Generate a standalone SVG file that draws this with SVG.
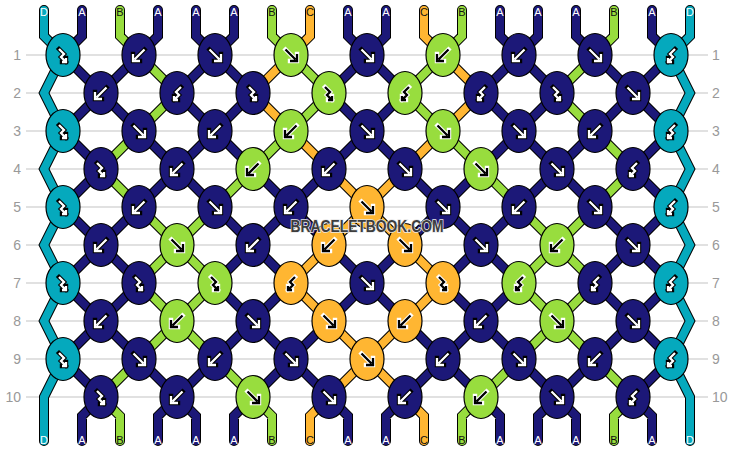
<svg xmlns="http://www.w3.org/2000/svg" xmlns:xlink="http://www.w3.org/1999/xlink" width="734" height="452" viewBox="0 0 734 452">
<style>
.grid line{stroke:#c4c4c4;stroke-width:1.2}
.rn{font-family:"Liberation Sans",Arial,sans-serif;font-size:14px;fill:#999}
.ol{fill:none;stroke:#000;stroke-width:10;stroke-linecap:round;stroke-linejoin:miter}
.cl{fill:none;stroke-width:8;stroke-linecap:round;stroke-linejoin:miter}
.sA{stroke:#1c1878}.sB{stroke:#98dd3e}.sC{stroke:#ffb632}.sD{stroke:#05a9bd}
ellipse{stroke:#000;stroke-width:1.2}
.eA{fill:#1c1878}.eB{fill:#98dd3e}.eC{fill:#ffb632}.eD{fill:#05a9bd}
.ao{fill:none;stroke-width:4.4;stroke-linecap:square;stroke-linejoin:miter}
.am{fill:none;stroke:currentColor;stroke-width:2.3;stroke-linecap:butt;stroke-linejoin:miter}
.wa{color:#fff;stroke:#000}
.ba{color:#000;stroke:#fff}
.lb{font-family:"Liberation Sans",Arial,sans-serif;font-size:11px;text-anchor:middle}
.lw{fill:#fff}.lk{fill:#111}
.wm{font-family:"Liberation Sans",Arial,sans-serif;font-weight:bold;font-size:16px;text-anchor:middle;fill:#3d3d3d;stroke:#e8e8e8;stroke-width:1.6;paint-order:stroke}
</style>
<defs>
<g id="f"><path class="ao" d="M-5.5,-5.5L4.5,4.5M-1,6H6V-1"/><path class="am" d="M-5.5,-5.5L4.5,4.5M-1,6H6V-1"/></g>
<g id="b"><path class="ao" d="M5.5,-5.5L-4.5,4.5M1,6H-6V-1"/><path class="am" d="M5.5,-5.5L-4.5,4.5M1,6H-6V-1"/></g>
<g id="fb"><path class="ao" d="M-4,-6L1,-1L-2,2L3,7M-1,7H3V3"/><path class="am" d="M-4,-6L1,-1L-2,2L3,7M-1,7H3V3"/></g>
<g id="bf"><path class="ao" d="M4,-6L-1,-1L2,2L-3,7M1,7H-3V3"/><path class="am" d="M4,-6L-1,-1L2,2L-3,7M1,7H-3V3"/></g>
<path id="pA" d="M82,10V36L63,55M158,10V36L139,55M196,10V36L215,55M234,10V36L215,55M348,10V36L367,55M386,10V36L367,55M500,10V36L519,55M538,10V36L519,55M576,10V36L595,55M652,10V36L671,55
M101,397L82,416V441M177,397L158,416V441M177,397L196,416V441M253,397L234,416V441M329,397L348,416V441M405,397L386,416V441M481,397L500,416V441M557,397L538,416V441M557,397L576,416V441M633,397L652,416V441
M63,55L101,93M139,55L101,93M215,55L177,93M215,55L253,93M367,55L329,93M367,55L405,93M519,55L481,93M519,55L557,93M595,55L633,93M671,55L633,93
M101,93L63,131M101,93L139,131M177,93L215,131M253,93L215,131M329,93L367,131M405,93L367,131M481,93L519,131M557,93L519,131M633,93L595,131M633,93L671,131
M63,131L101,169M139,131L177,169M215,131L177,169M215,131L253,169M367,131L329,169M367,131L405,169M519,131L481,169M519,131L557,169M595,131L557,169M671,131L633,169
M101,169L63,207M177,169L139,207M177,169L215,207M253,169L291,207M329,169L291,207M405,169L443,207M481,169L443,207M557,169L519,207M557,169L595,207M633,169L671,207
M63,207L101,245M139,207L101,245M215,207L253,245M291,207L253,245M291,207L329,245M443,207L405,245M443,207L481,245M519,207L481,245M595,207L633,245M671,207L633,245
M101,245L63,283M101,245L139,283M253,245L215,283M253,245L291,283M329,245L367,283M405,245L367,283M481,245L443,283M481,245L519,283M633,245L595,283M633,245L671,283
M63,283L101,321M139,283L101,321M215,283L253,321M291,283L253,321M367,283L329,321M367,283L405,321M443,283L481,321M519,283L481,321M595,283L633,321M671,283L633,321
M101,321L63,359M101,321L139,359M253,321L215,359M253,321L291,359M329,321L291,359M405,321L443,359M481,321L443,359M481,321L519,359M633,321L595,359M633,321L671,359
M63,359L101,397M139,359L177,397M215,359L177,397M291,359L253,397M291,359L329,397M443,359L405,397M443,359L481,397M519,359L557,397M595,359L557,397M671,359L633,397"/>
<path id="pB" d="M120,10V36L139,55M272,10V36L291,55M462,10V36L443,55M614,10V36L595,55
M101,397L120,416V441M253,397L272,416V441M481,397L462,416V441M633,397L614,416V441
M139,55L177,93M291,55L329,93M443,55L405,93M595,55L557,93
M177,93L139,131M329,93L291,131M405,93L443,131M557,93L595,131
M139,131L101,169M291,131L253,169M443,131L481,169M595,131L633,169
M101,169L139,207M253,169L215,207M481,169L519,207M633,169L595,207
M139,207L177,245M215,207L177,245M519,207L557,245M595,207L557,245
M177,245L139,283M177,245L215,283M557,245L519,283M557,245L595,283
M139,283L177,321M215,283L177,321M519,283L557,321M595,283L557,321
M177,321L139,359M177,321L215,359M557,321L519,359M557,321L595,359
M139,359L101,397M215,359L253,397M519,359L481,397M595,359L633,397"/>
<path id="pC" d="M310,10V36L291,55M424,10V36L443,55
M329,397L310,416V441M405,397L424,416V441
M291,55L253,93M443,55L481,93
M253,93L291,131M481,93L443,131
M291,131L329,169M443,131L405,169
M329,169L367,207M405,169L367,207
M367,207L329,245M367,207L405,245
M329,245L291,283M405,245L443,283
M291,283L329,321M443,283L405,321
M329,321L367,359M405,321L367,359
M367,359L329,397M367,359L405,397"/>
<path id="pD" d="M44,10V36L63,55L44,93L63,131L44,169L63,207L44,245L63,283L44,321L63,359L44,397V441
M690,10V36L671,55L690,93L671,131L690,169L671,207L690,245L671,283L690,321L671,359L690,397V441"/>
</defs>
<rect x="0" y="0" width="734" height="452" fill="#fff"/>
<g class="grid">
<line x1="26" y1="55" x2="708" y2="55"/><line x1="26" y1="93" x2="708" y2="93"/><line x1="26" y1="131" x2="708" y2="131"/><line x1="26" y1="169" x2="708" y2="169"/><line x1="26" y1="207" x2="708" y2="207"/><line x1="26" y1="245" x2="708" y2="245"/><line x1="26" y1="283" x2="708" y2="283"/><line x1="26" y1="321" x2="708" y2="321"/><line x1="26" y1="359" x2="708" y2="359"/><line x1="26" y1="397" x2="708" y2="397"/>
</g>
<g class="rn">
<text x="21" y="60" text-anchor="end">1</text><text x="21" y="98" text-anchor="end">2</text><text x="21" y="136" text-anchor="end">3</text><text x="21" y="174" text-anchor="end">4</text><text x="21" y="212" text-anchor="end">5</text><text x="21" y="250" text-anchor="end">6</text><text x="21" y="288" text-anchor="end">7</text><text x="21" y="326" text-anchor="end">8</text><text x="21" y="364" text-anchor="end">9</text><text x="21" y="402" text-anchor="end">10</text>
<text x="712" y="60">1</text><text x="712" y="98">2</text><text x="712" y="136">3</text><text x="712" y="174">4</text><text x="712" y="212">5</text><text x="712" y="250">6</text><text x="712" y="288">7</text><text x="712" y="326">8</text><text x="712" y="364">9</text><text x="712" y="402">10</text>
</g>
<g id="connectors">
<use href="#pA" class="ol"/><use href="#pB" class="ol"/><use href="#pC" class="ol"/><use href="#pD" class="ol"/>
<use href="#pA" class="cl sA"/><use href="#pB" class="cl sB"/><use href="#pC" class="cl sC"/><use href="#pD" class="cl sD"/>
</g>
<g id="knots">
<g id="k1-1"><ellipse class="eD" cx="63" cy="55" rx="17" ry="21.5"/><use href="#fb" x="63" y="55" class="wa"/></g>
<g id="k1-2"><ellipse class="eA" cx="139" cy="55" rx="17" ry="21.5"/><use href="#b" x="139" y="55" class="wa"/></g>
<g id="k1-3"><ellipse class="eA" cx="215" cy="55" rx="17" ry="21.5"/><use href="#f" x="215" y="55" class="wa"/></g>
<g id="k1-4"><ellipse class="eB" cx="291" cy="55" rx="17" ry="21.5"/><use href="#f" x="291" y="55" class="ba"/></g>
<g id="k1-5"><ellipse class="eA" cx="367" cy="55" rx="17" ry="21.5"/><use href="#f" x="367" y="55" class="wa"/></g>
<g id="k1-6"><ellipse class="eB" cx="443" cy="55" rx="17" ry="21.5"/><use href="#b" x="443" y="55" class="ba"/></g>
<g id="k1-7"><ellipse class="eA" cx="519" cy="55" rx="17" ry="21.5"/><use href="#b" x="519" y="55" class="wa"/></g>
<g id="k1-8"><ellipse class="eA" cx="595" cy="55" rx="17" ry="21.5"/><use href="#f" x="595" y="55" class="wa"/></g>
<g id="k1-9"><ellipse class="eD" cx="671" cy="55" rx="17" ry="21.5"/><use href="#bf" x="671" y="55" class="wa"/></g>

<g id="k2-1"><ellipse class="eA" cx="101" cy="93" rx="17" ry="21.5"/><use href="#b" x="101" y="93" class="wa"/></g>
<g id="k2-2"><ellipse class="eA" cx="177" cy="93" rx="17" ry="21.5"/><use href="#bf" x="177" y="93" class="wa"/></g>
<g id="k2-3"><ellipse class="eA" cx="253" cy="93" rx="17" ry="21.5"/><use href="#fb" x="253" y="93" class="wa"/></g>
<g id="k2-4"><ellipse class="eB" cx="329" cy="93" rx="17" ry="21.5"/><use href="#fb" x="329" y="93" class="ba"/></g>
<g id="k2-5"><ellipse class="eB" cx="405" cy="93" rx="17" ry="21.5"/><use href="#bf" x="405" y="93" class="ba"/></g>
<g id="k2-6"><ellipse class="eA" cx="481" cy="93" rx="17" ry="21.5"/><use href="#bf" x="481" y="93" class="wa"/></g>
<g id="k2-7"><ellipse class="eA" cx="557" cy="93" rx="17" ry="21.5"/><use href="#fb" x="557" y="93" class="wa"/></g>
<g id="k2-8"><ellipse class="eA" cx="633" cy="93" rx="17" ry="21.5"/><use href="#f" x="633" y="93" class="wa"/></g>

<g id="k3-1"><ellipse class="eD" cx="63" cy="131" rx="17" ry="21.5"/><use href="#fb" x="63" y="131" class="wa"/></g>
<g id="k3-2"><ellipse class="eA" cx="139" cy="131" rx="17" ry="21.5"/><use href="#f" x="139" y="131" class="wa"/></g>
<g id="k3-3"><ellipse class="eA" cx="215" cy="131" rx="17" ry="21.5"/><use href="#b" x="215" y="131" class="wa"/></g>
<g id="k3-4"><ellipse class="eB" cx="291" cy="131" rx="17" ry="21.5"/><use href="#b" x="291" y="131" class="ba"/></g>
<g id="k3-5"><ellipse class="eA" cx="367" cy="131" rx="17" ry="21.5"/><use href="#f" x="367" y="131" class="wa"/></g>
<g id="k3-6"><ellipse class="eB" cx="443" cy="131" rx="17" ry="21.5"/><use href="#f" x="443" y="131" class="ba"/></g>
<g id="k3-7"><ellipse class="eA" cx="519" cy="131" rx="17" ry="21.5"/><use href="#f" x="519" y="131" class="wa"/></g>
<g id="k3-8"><ellipse class="eA" cx="595" cy="131" rx="17" ry="21.5"/><use href="#b" x="595" y="131" class="wa"/></g>
<g id="k3-9"><ellipse class="eD" cx="671" cy="131" rx="17" ry="21.5"/><use href="#bf" x="671" y="131" class="wa"/></g>

<g id="k4-1"><ellipse class="eA" cx="101" cy="169" rx="17" ry="21.5"/><use href="#fb" x="101" y="169" class="wa"/></g>
<g id="k4-2"><ellipse class="eA" cx="177" cy="169" rx="17" ry="21.5"/><use href="#b" x="177" y="169" class="wa"/></g>
<g id="k4-3"><ellipse class="eB" cx="253" cy="169" rx="17" ry="21.5"/><use href="#b" x="253" y="169" class="ba"/></g>
<g id="k4-4"><ellipse class="eA" cx="329" cy="169" rx="17" ry="21.5"/><use href="#b" x="329" y="169" class="wa"/></g>
<g id="k4-5"><ellipse class="eA" cx="405" cy="169" rx="17" ry="21.5"/><use href="#f" x="405" y="169" class="wa"/></g>
<g id="k4-6"><ellipse class="eB" cx="481" cy="169" rx="17" ry="21.5"/><use href="#f" x="481" y="169" class="ba"/></g>
<g id="k4-7"><ellipse class="eA" cx="557" cy="169" rx="17" ry="21.5"/><use href="#f" x="557" y="169" class="wa"/></g>
<g id="k4-8"><ellipse class="eA" cx="633" cy="169" rx="17" ry="21.5"/><use href="#bf" x="633" y="169" class="wa"/></g>

<g id="k5-1"><ellipse class="eD" cx="63" cy="207" rx="17" ry="21.5"/><use href="#fb" x="63" y="207" class="wa"/></g>
<g id="k5-2"><ellipse class="eA" cx="139" cy="207" rx="17" ry="21.5"/><use href="#b" x="139" y="207" class="wa"/></g>
<g id="k5-3"><ellipse class="eA" cx="215" cy="207" rx="17" ry="21.5"/><use href="#f" x="215" y="207" class="wa"/></g>
<g id="k5-4"><ellipse class="eA" cx="291" cy="207" rx="17" ry="21.5"/><use href="#b" x="291" y="207" class="wa"/></g>
<g id="k5-5"><ellipse class="eC" cx="367" cy="207" rx="17" ry="21.5"/><use href="#f" x="367" y="207" class="ba"/></g>
<g id="k5-6"><ellipse class="eA" cx="443" cy="207" rx="17" ry="21.5"/><use href="#f" x="443" y="207" class="wa"/></g>
<g id="k5-7"><ellipse class="eA" cx="519" cy="207" rx="17" ry="21.5"/><use href="#b" x="519" y="207" class="wa"/></g>
<g id="k5-8"><ellipse class="eA" cx="595" cy="207" rx="17" ry="21.5"/><use href="#f" x="595" y="207" class="wa"/></g>
<g id="k5-9"><ellipse class="eD" cx="671" cy="207" rx="17" ry="21.5"/><use href="#bf" x="671" y="207" class="wa"/></g>

<g id="k6-1"><ellipse class="eA" cx="101" cy="245" rx="17" ry="21.5"/><use href="#b" x="101" y="245" class="wa"/></g>
<g id="k6-2"><ellipse class="eB" cx="177" cy="245" rx="17" ry="21.5"/><use href="#f" x="177" y="245" class="ba"/></g>
<g id="k6-3"><ellipse class="eA" cx="253" cy="245" rx="17" ry="21.5"/><use href="#b" x="253" y="245" class="wa"/></g>
<g id="k6-4"><ellipse class="eC" cx="329" cy="245" rx="17" ry="21.5"/><use href="#b" x="329" y="245" class="ba"/></g>
<g id="k6-5"><ellipse class="eC" cx="405" cy="245" rx="17" ry="21.5"/><use href="#f" x="405" y="245" class="ba"/></g>
<g id="k6-6"><ellipse class="eA" cx="481" cy="245" rx="17" ry="21.5"/><use href="#f" x="481" y="245" class="wa"/></g>
<g id="k6-7"><ellipse class="eB" cx="557" cy="245" rx="17" ry="21.5"/><use href="#b" x="557" y="245" class="ba"/></g>
<g id="k6-8"><ellipse class="eA" cx="633" cy="245" rx="17" ry="21.5"/><use href="#f" x="633" y="245" class="wa"/></g>

<g id="k7-1"><ellipse class="eD" cx="63" cy="283" rx="17" ry="21.5"/><use href="#fb" x="63" y="283" class="wa"/></g>
<g id="k7-2"><ellipse class="eA" cx="139" cy="283" rx="17" ry="21.5"/><use href="#fb" x="139" y="283" class="wa"/></g>
<g id="k7-3"><ellipse class="eB" cx="215" cy="283" rx="17" ry="21.5"/><use href="#fb" x="215" y="283" class="ba"/></g>
<g id="k7-4"><ellipse class="eC" cx="291" cy="283" rx="17" ry="21.5"/><use href="#bf" x="291" y="283" class="ba"/></g>
<g id="k7-5"><ellipse class="eA" cx="367" cy="283" rx="17" ry="21.5"/><use href="#f" x="367" y="283" class="wa"/></g>
<g id="k7-6"><ellipse class="eC" cx="443" cy="283" rx="17" ry="21.5"/><use href="#fb" x="443" y="283" class="ba"/></g>
<g id="k7-7"><ellipse class="eB" cx="519" cy="283" rx="17" ry="21.5"/><use href="#bf" x="519" y="283" class="ba"/></g>
<g id="k7-8"><ellipse class="eA" cx="595" cy="283" rx="17" ry="21.5"/><use href="#bf" x="595" y="283" class="wa"/></g>
<g id="k7-9"><ellipse class="eD" cx="671" cy="283" rx="17" ry="21.5"/><use href="#bf" x="671" y="283" class="wa"/></g>

<g id="k8-1"><ellipse class="eA" cx="101" cy="321" rx="17" ry="21.5"/><use href="#b" x="101" y="321" class="wa"/></g>
<g id="k8-2"><ellipse class="eB" cx="177" cy="321" rx="17" ry="21.5"/><use href="#b" x="177" y="321" class="ba"/></g>
<g id="k8-3"><ellipse class="eA" cx="253" cy="321" rx="17" ry="21.5"/><use href="#f" x="253" y="321" class="wa"/></g>
<g id="k8-4"><ellipse class="eC" cx="329" cy="321" rx="17" ry="21.5"/><use href="#f" x="329" y="321" class="ba"/></g>
<g id="k8-5"><ellipse class="eC" cx="405" cy="321" rx="17" ry="21.5"/><use href="#b" x="405" y="321" class="ba"/></g>
<g id="k8-6"><ellipse class="eA" cx="481" cy="321" rx="17" ry="21.5"/><use href="#b" x="481" y="321" class="wa"/></g>
<g id="k8-7"><ellipse class="eB" cx="557" cy="321" rx="17" ry="21.5"/><use href="#f" x="557" y="321" class="ba"/></g>
<g id="k8-8"><ellipse class="eA" cx="633" cy="321" rx="17" ry="21.5"/><use href="#f" x="633" y="321" class="wa"/></g>

<g id="k9-1"><ellipse class="eD" cx="63" cy="359" rx="17" ry="21.5"/><use href="#fb" x="63" y="359" class="wa"/></g>
<g id="k9-2"><ellipse class="eA" cx="139" cy="359" rx="17" ry="21.5"/><use href="#f" x="139" y="359" class="wa"/></g>
<g id="k9-3"><ellipse class="eA" cx="215" cy="359" rx="17" ry="21.5"/><use href="#b" x="215" y="359" class="wa"/></g>
<g id="k9-4"><ellipse class="eA" cx="291" cy="359" rx="17" ry="21.5"/><use href="#f" x="291" y="359" class="wa"/></g>
<g id="k9-5"><ellipse class="eC" cx="367" cy="359" rx="17" ry="21.5"/><use href="#f" x="367" y="359" class="ba"/></g>
<g id="k9-6"><ellipse class="eA" cx="443" cy="359" rx="17" ry="21.5"/><use href="#b" x="443" y="359" class="wa"/></g>
<g id="k9-7"><ellipse class="eA" cx="519" cy="359" rx="17" ry="21.5"/><use href="#f" x="519" y="359" class="wa"/></g>
<g id="k9-8"><ellipse class="eA" cx="595" cy="359" rx="17" ry="21.5"/><use href="#b" x="595" y="359" class="wa"/></g>
<g id="k9-9"><ellipse class="eD" cx="671" cy="359" rx="17" ry="21.5"/><use href="#bf" x="671" y="359" class="wa"/></g>

<g id="k10-1"><ellipse class="eA" cx="101" cy="397" rx="17" ry="21.5"/><use href="#fb" x="101" y="397" class="wa"/></g>
<g id="k10-2"><ellipse class="eA" cx="177" cy="397" rx="17" ry="21.5"/><use href="#b" x="177" y="397" class="wa"/></g>
<g id="k10-3"><ellipse class="eB" cx="253" cy="397" rx="17" ry="21.5"/><use href="#f" x="253" y="397" class="ba"/></g>
<g id="k10-4"><ellipse class="eA" cx="329" cy="397" rx="17" ry="21.5"/><use href="#f" x="329" y="397" class="wa"/></g>
<g id="k10-5"><ellipse class="eA" cx="405" cy="397" rx="17" ry="21.5"/><use href="#b" x="405" y="397" class="wa"/></g>
<g id="k10-6"><ellipse class="eB" cx="481" cy="397" rx="17" ry="21.5"/><use href="#b" x="481" y="397" class="ba"/></g>
<g id="k10-7"><ellipse class="eA" cx="557" cy="397" rx="17" ry="21.5"/><use href="#f" x="557" y="397" class="wa"/></g>
<g id="k10-8"><ellipse class="eA" cx="633" cy="397" rx="17" ry="21.5"/><use href="#bf" x="633" y="397" class="wa"/></g>
</g>
<g id="labels-top" class="lb">
<text x="44" y="16" class="lw">D</text><text x="82" y="16" class="lw">A</text><text x="120" y="16" class="lk">B</text><text x="158" y="16" class="lw">A</text><text x="196" y="16" class="lw">A</text><text x="234" y="16" class="lw">A</text><text x="272" y="16" class="lk">B</text><text x="310" y="16" class="lk">C</text><text x="348" y="16" class="lw">A</text><text x="386" y="16" class="lw">A</text><text x="424" y="16" class="lk">C</text><text x="462" y="16" class="lk">B</text><text x="500" y="16" class="lw">A</text><text x="538" y="16" class="lw">A</text><text x="576" y="16" class="lw">A</text><text x="614" y="16" class="lk">B</text><text x="652" y="16" class="lw">A</text><text x="690" y="16" class="lw">D</text>
</g>
<g id="labels-bottom" class="lb">
<text x="44" y="444" class="lw">D</text><text x="82" y="444" class="lw">A</text><text x="120" y="444" class="lk">B</text><text x="158" y="444" class="lw">A</text><text x="196" y="444" class="lw">A</text><text x="234" y="444" class="lw">A</text><text x="272" y="444" class="lk">B</text><text x="310" y="444" class="lk">C</text><text x="348" y="444" class="lw">A</text><text x="386" y="444" class="lw">A</text><text x="424" y="444" class="lk">C</text><text x="462" y="444" class="lk">B</text><text x="500" y="444" class="lw">A</text><text x="538" y="444" class="lw">A</text><text x="576" y="444" class="lw">A</text><text x="614" y="444" class="lk">B</text><text x="652" y="444" class="lw">A</text><text x="690" y="444" class="lw">D</text>
</g>
<text class="wm" x="367" y="232" textLength="153" lengthAdjust="spacingAndGlyphs">BRACELETBOOK.COM</text>
</svg>
